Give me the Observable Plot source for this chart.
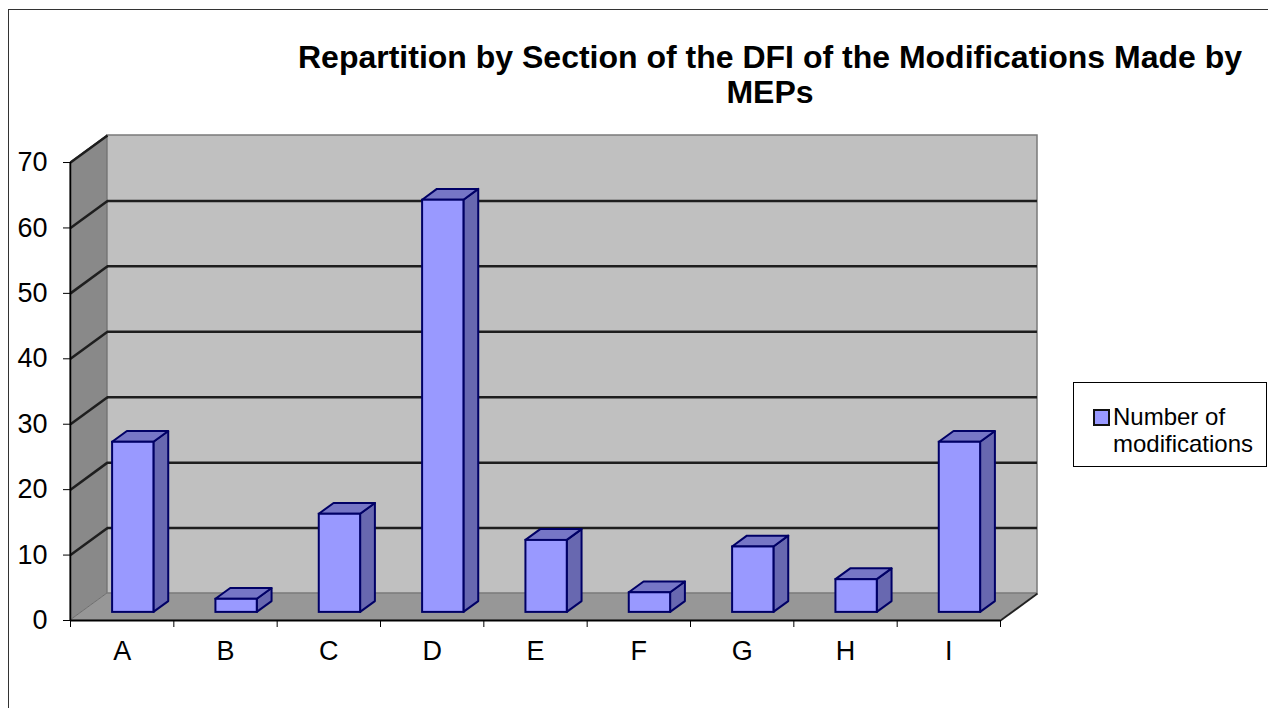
<!DOCTYPE html>
<html><head><meta charset="utf-8">
<script src="https://cdn.jsdelivr.net/npm/d3@7"></script>
<script src="https://cdn.jsdelivr.net/npm/@observablehq/plot@0.6"></script>
<style>
html,body{margin:0;padding:0;background:#fff;overflow:hidden;width:1268px;height:708px;}
body{font-family:"Liberation Sans",Arial,sans-serif;position:relative;color:#000;}
#frame{position:absolute;left:8px;top:9px;width:1300px;height:760px;border:1px solid #333;pointer-events:none;}
#title{box-sizing:border-box;width:1268px;height:115px;padding:40px 0 0 272px;text-align:center;font-weight:bold;font-size:32px;line-height:35px;}
#legend{position:absolute;left:1073px;top:382px;width:194px;height:85px;border:1px solid #000;background:#fff;box-sizing:border-box;}
#legend .sw{position:absolute;left:19px;top:26px;width:13px;height:13px;border:2px solid #111;background:#9999ff;}
#legend .tx{position:absolute;left:39px;top:20px;font-size:24px;line-height:27px;white-space:nowrap;}
#chart svg{display:block;}
</style>
</head><body>
<div id="title"></div>
<div id="chart"></div>
<div id="legend"><div class="sw"></div><div class="tx"></div></div>
<div id="frame"></div>
<script>
const titleLines = ["Repartition by Section of the DFI of the Modifications Made by", "MEPs"];
const categories = ["A","B","C","D","E","F","G","H","I"];
const values = [26, 2, 15, 63, 11, 3, 10, 5, 26];
const yTicks = [0, 10, 20, 30, 40, 50, 60, 70];
const legendLines = ["Number of", "modifications"];

// 3-D depth of the box, in data units (x: categories, y: values)
const DX = 0.358, DY = 4.13;
const F0 = 0.3, F1 = 0.7;           // bar depth inside the box
const N = categories.length;
const YMAX = yTicks[yTicks.length - 1];

document.getElementById("title").innerHTML = titleLines.join("<br>");
document.querySelector("#legend .tx").innerHTML = legendLines.join("<br>");

const bars = categories.map((c, i) => {
  const x1 = i + 0.3 + F0 * DX, x2 = i + 0.7 + F0 * DX;
  const y0 = F0 * DY, y1 = values[i] + F0 * DY;
  return {c, i, v: values[i], x1, x2, y0, y1};
});
const dd = F1 - F0;
const sides = bars.flatMap(b => [
  {id: b.c, x: b.x2, y1: b.y0, y2: b.y1},
  {id: b.c, x: b.x2 + dd * DX, y1: b.y0 + dd * DY, y2: b.y1 + dd * DY}
]);
const tops = bars.flatMap(b => [
  {id: b.c, y: b.y1, x1: b.x1, x2: b.x2},
  {id: b.c, y: b.y1 + dd * DY, x1: b.x1 + dd * DX, x2: b.x2 + dd * DX}
]);
const grid = yTicks.filter(t => t > 0 && t < YMAX);
const diag = yTicks.filter(t => t > 0);

const box = {
  floor: [{y: 0, x1: 0, x2: N}, {y: DY, x1: DX, x2: N + DX}],
  side: [{x: 0, y1: 0, y2: YMAX}, {x: DX, y1: DY, y2: YMAX + DY}],
  back: [{x1: DX, x2: N + DX, y1: DY, y2: YMAX + DY}],
  edge: [{x1: N, y1: 0, x2: N + DX, y2: DY}],
  yAxis: [{x: 0, y1: 0, y2: YMAX}],
  xAxis: [{y: 0, x1: 0, x2: N}]
};

const barStroke = "#000066";
const plot = Plot.plot({
  width: 1268, height: 593,
  marginLeft: 70, marginRight: 231, marginTop: 20, marginBottom: 88,
  style: {fontFamily: '"Liberation Sans", Arial, sans-serif', fontSize: "27px", background: "transparent", overflow: "visible"},
  x: {domain: [0, N + DX]},
  y: {domain: [0, YMAX + DY]},
  marks: [
    Plot.areaX(box.floor, {y: "y", x1: "x1", x2: "x2", fill: "#979797"}),
    Plot.areaY(box.side, {x: "x", y1: "y1", y2: "y2", fill: "#898989", stroke: "#6e6e6e", strokeWidth: 1}),
    Plot.rect(box.back, {x1: "x1", x2: "x2", y1: "y1", y2: "y2", fill: "#c0c0c0", stroke: "#7a7a7a", strokeWidth: 1.5}),
    Plot.ruleY(grid, {y: d => d + DY, x1: () => DX, x2: () => N + DX, stroke: "#1e1e1e", strokeWidth: 2.5}),
    Plot.link(diag, {x1: () => 0, y1: d => d, x2: () => DX, y2: d => d + DY, stroke: "#1e1e1e", strokeWidth: 2.5}),
    Plot.link(box.edge, {x1: "x1", y1: "y1", x2: "x2", y2: "y2", stroke: "#222", strokeWidth: 2}),
    Plot.ruleX(box.yAxis, {x: "x", y1: "y1", y2: "y2", stroke: "#000", strokeWidth: 1.5}),
    Plot.ruleY(box.xAxis, {y: "y", x1: "x1", x2: "x2", stroke: "#000", strokeWidth: 2}),
    Plot.areaY(sides, {x: "x", y1: "y1", y2: "y2", z: "id", fill: "#6868b0", stroke: barStroke, strokeWidth: 2, strokeLinejoin: "round"}),
    Plot.areaX(tops, {y: "y", x1: "x1", x2: "x2", z: "id", fill: "#7676c6", stroke: barStroke, strokeWidth: 2, strokeLinejoin: "round"}),
    Plot.rect(bars, {x1: "x1", x2: "x2", y1: "y0", y2: "y1", fill: "#9999ff", stroke: barStroke, strokeWidth: 2}),
    Plot.axisY({ticks: yTicks, tickSize: 7, tickPadding: 16, fontSize: 27, label: null, tickFormat: d => String(d)}),
    Plot.axisX({ticks: d3.range(N + 1), tickSize: 7, fill: "none", label: null}),
    Plot.axisX({ticks: categories.map((c, i) => i + 0.5), tickSize: 0, tickPadding: 20, fontSize: 27, label: null, tickFormat: d => categories[Math.floor(d)]})
  ]
});
document.getElementById("chart").appendChild(plot);
</script>
</body></html>
